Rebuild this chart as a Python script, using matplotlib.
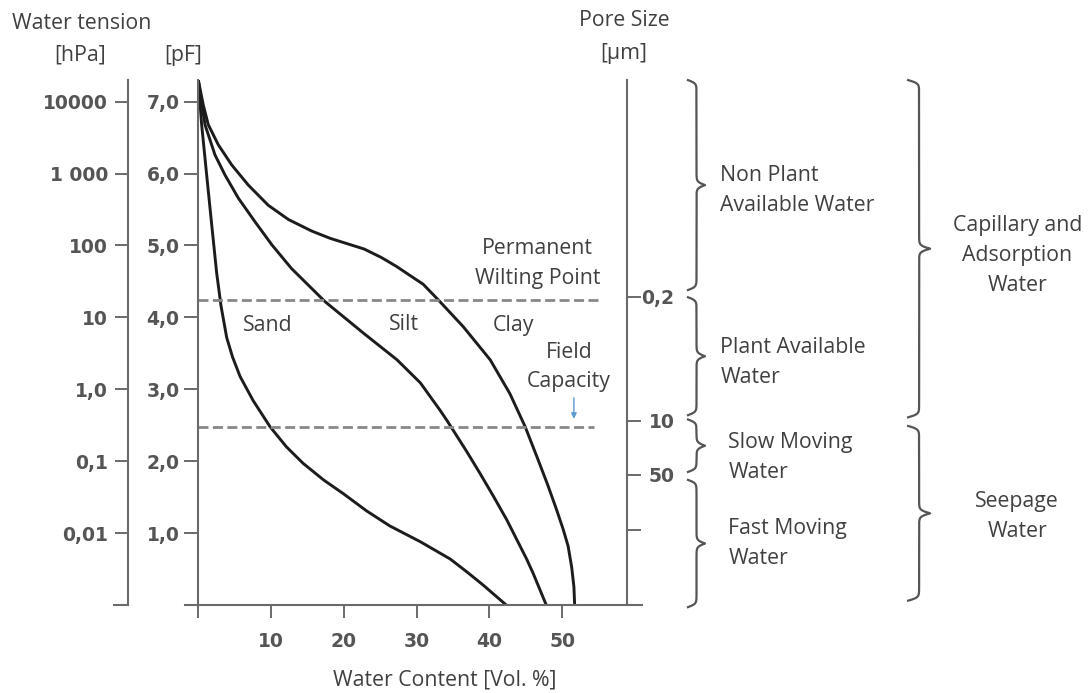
import numpy as np
import matplotlib.pyplot as plt

plt.rcParams['font.family'] = ['Open Sans', 'DejaVu Sans']

# water retention curves: water content [Vol. %] -> pF
sand_wc = [0, 0.46, 1.15, 1.84, 2.52, 3.12, 3.9, 4.7, 5.73, 7.55, 9.85, 12.1, 14.4, 17.2, 19.9,
           23.1, 26.3, 30.5, 34.6, 36.9, 39.1, 42.3]
sand_pf = [7.3, 6.68, 5.98, 5.29, 4.62, 4.16, 3.72, 3.45, 3.18, 2.84, 2.48, 2.20, 1.97, 1.74, 1.55,
           1.31, 1.10, 0.88, 0.64, 0.46, 0.28, 0.0]
silt_wc = [0, 0.92, 2.29, 3.67, 5.49, 7.79, 10.1, 12.8, 15.1, 17.4, 22.7, 27.3, 30.5, 33.2,
           34.2, 36.9, 38.7, 40.5, 42.4, 43.7, 45.1, 46.0, 46.9, 47.8]
silt_pf = [7.3, 6.68, 6.26, 5.98, 5.66, 5.33, 5.01, 4.68, 4.45, 4.22, 3.78, 3.41, 3.09, 2.71,
           2.56, 2.13, 1.83, 1.52, 1.18, 0.92, 0.64, 0.44, 0.22, 0.0]
clay_wc = [0, 0.69, 1.37, 2.75, 4.59, 6.87, 9.6, 12.4, 15.6, 18.1, 22.8, 25.2, 27.2, 30.9, 33.0,
           36.4, 40.1, 42.8, 44.9, 46.6, 48.0, 49.2, 50.1, 50.8, 51.3, 51.6, 51.7]
clay_pf = [7.3, 6.95, 6.68, 6.40, 6.12, 5.84, 5.56, 5.36, 5.20, 5.10, 4.95, 4.83, 4.71, 4.46, 4.24,
           3.87, 3.41, 2.94, 2.48, 2.04, 1.67, 1.33, 1.06, 0.82, 0.52, 0.25, 0.0]

wc_ticks = [0, 10, 20, 30, 40, 50]
wc_labels = ['', '10', '20', '30', '40', '50']
pf_ticks = [7, 6, 5, 4, 3, 2, 1]
pf_labels = ['7,0', '6,0', '5,0', '4,0', '3,0', '2,0', '1,0']
hpa_labels = ['10000', '1 000', '100', '10', '1,0', '0,1', '0,01']
pore_pf = [4.29, 2.56, 1.81, 1.04]
pore_labels = ['0,2', '10', '50', '']
pwp_pf = 4.24
fc_pf = 2.47

zone_names = ['Non Plant\nAvailable Water', 'Plant Available\nWater',
              'Slow Moving\nWater', 'Fast Moving\nWater']
zone_top = [7.3, 4.28, 2.58, 1.74]
zone_bottom = [4.38, 2.64, 1.85, -0.03]
group_names = ['Capillary and\nAdsorption\nWater', 'Seepage\nWater']
group_top = [7.3, 2.49]
group_bottom = [2.61, 0.06]

W, H = 1089, 693
txt = '#404040'
axc = '#6a6a6a'
ls = 1.56
tickfont = dict(family='DejaVu Sans', fontsize=13.5, fontweight='bold', color='#555555')


def fx(px):
    return px / W


def fy(py):
    return 1 - py / H


def brace(ax, lo, hi, xb, w, beta=45):
    half = (hi - lo) / 2
    t = np.linspace(0, half, 200)
    s = 1 / (1 + np.exp(-beta * t)) + 1 / (1 + np.exp(-beta * (t - half)))
    yy = np.concatenate([lo + t, (hi - t)[::-1]])
    xx = xb + w * np.concatenate([s, s[::-1]])
    ax.plot(xx, yy, color='#555555', lw=1.6, clip_on=False)


fig = plt.figure(figsize=(W / 100, H / 100), dpi=100)
ax = fig.add_axes([fx(198.3), fy(605), (626.7 - 198.3) / W, (605 - 80.1) / H])

for wc, pf in [(sand_wc, sand_pf), (silt_wc, silt_pf), (clay_wc, clay_pf)]:
    ax.plot(wc, pf, color='#1c1c1c', lw=2.1, solid_capstyle='round', solid_joinstyle='round')

ax.plot([0, 55.0], [pwp_pf, pwp_pf], color='#888888', lw=2, dashes=(3.6, 1.6))
ax.plot([0, 54.3], [fc_pf, fc_pf], color='#888888', lw=2, dashes=(3.6, 1.6))
ax.annotate('', xy=(51.6, 2.55), xytext=(51.6, 2.92),
            arrowprops=dict(arrowstyle='-|>', color='#5b9bd5', lw=1, mutation_scale=8))

for name, x, y in [('Sand', 9.6, 3.89), ('Silt', 28.3, 3.9), ('Clay', 43.3, 3.89)]:
    ax.text(x, y, name, ha='center', va='center', fontsize=15.3, color=txt)
ax.text(46.6, 4.75, 'Permanent\nWilting Point', ha='center', va='center',
        fontsize=15.3, color=txt, linespacing=ls)
ax.text(50.9, 3.31, 'Field\nCapacity', ha='center', va='center',
        fontsize=15.3, color=txt, linespacing=ls)

# braces and zone labels on the right
for lo, hi in zip(zone_bottom, zone_top):
    brace(ax, lo, hi, 66.1, 2.34)
for lo, hi in zip(group_bottom, group_top):
    brace(ax, lo, hi, 96.0, 3.02)
for name, x, y in zip(zone_names, [71.7, 71.7, 72.8, 72.8], [5.76, 3.37, 2.05, 0.86]):
    ax.text(x, y, name, ha='left', va='center', fontsize=15.3, color=txt, linespacing=ls)
for name, y in zip(group_names, [4.86, 1.23]):
    ax.text(112.5, y, name, ha='center', va='center', fontsize=15.3, color=txt, linespacing=ls)

ax.set_xlim(0, 58.85)
ax.set_ylim(0, 7.3)
ax.patch.set_visible(False)
for side in ['top', 'right']:
    ax.spines[side].set_visible(False)
for side in ['left', 'bottom']:
    ax.spines[side].set_color(axc)
    ax.spines[side].set_linewidth(1.5)
ax.spines['bottom'].set_bounds(-1.83, 60.9)
ax.set_xticks(wc_ticks, wc_labels, **tickfont)
ax.set_yticks(pf_ticks, pf_labels, **tickfont)
ax.tick_params(axis='x', direction='out', length=9.4, width=1.4, color=axc, pad=10)
ax.tick_params(axis='y', direction='out', length=10, width=1.4, color=axc, pad=3.5)

# hPa axis
ax_h = fig.add_axes([fx(114), fy(605), 14.3 / W, (605 - 80.1) / H])
ax_h.set_xlim(0, 1)
ax_h.set_ylim(0, 7.3)
ax_h.patch.set_visible(False)
ax_h.spines['left'].set_position(('axes', 1.0))
for side in ['top', 'right']:
    ax_h.spines[side].set_visible(False)
for side in ['left', 'bottom']:
    ax_h.spines[side].set_color(axc)
    ax_h.spines[side].set_linewidth(1.5)
ax_h.set_xticks([])
ax_h.set_yticks(pf_ticks, hpa_labels, **tickfont)
ax_h.tick_params(axis='y', direction='out', length=9.4, width=1.4, color=axc, pad=5)

# pore size axis
ax_p = ax.twinx()
ax_p.set_ylim(0, 7.3)
for side in ['top', 'left', 'bottom']:
    ax_p.spines[side].set_visible(False)
ax_p.spines['right'].set_color(axc)
ax_p.spines['right'].set_linewidth(1.5)
ax_p.set_yticks(pore_pf, pore_labels, ha='right', **tickfont)
ax_p.tick_params(axis='y', direction='out', length=10, width=1.4, color=axc, pad=24.5)

fig.text(fx(81.7), fy(23.3), 'Water tension', ha='center', va='center', fontsize=15.3, color=txt)
fig.text(fx(80), fy(55), '[hPa]', ha='center', va='center', fontsize=15.3, color=txt)
fig.text(fx(183.3), fy(55), '[pF]', ha='center', va='center', fontsize=15.3, color=txt)
fig.text(fx(624), fy(21), 'Pore Size', ha='center', va='center', fontsize=15.3, color=txt)
fig.text(fx(624), fy(53), '[µm]', ha='center', va='center', fontsize=15.3, color=txt)
fig.text(fx(444.5), fy(680), 'Water Content [Vol. %]', ha='center', va='center', fontsize=15.3, color=txt)

fig.savefig('out.png', dpi=100)
